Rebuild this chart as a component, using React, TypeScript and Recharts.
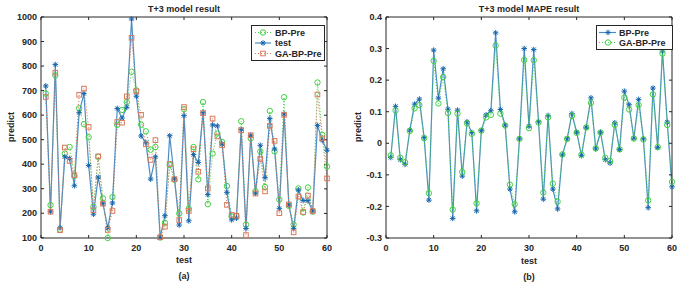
import React from 'react';
import { LineChart, Line, XAxis, YAxis } from 'recharts';

// sample index on the x axis
const idx = Array.from({ length: 60 }, (_, i) => i + 1);

// (a) T+3 model result
const testA = [
  719, 206, 806, 141, 430, 423, 312, 610, 688, 395,
  196, 347, 239, 140, 242, 627, 588, 632, 992, 677,
  515, 488, 339, 430, 102, 190, 516, 340, 152, 598,
  169, 439, 407, 610, 276, 560, 556, 482, 285, 173,
  180, 542, 138, 518, 282, 477, 345, 586, 462, 220,
  605, 233, 138, 295, 252, 251, 209, 558, 497, 457,
];
const bpA = [
  688, 233, 762, 133, 443, 470, 352, 628, 563, 510,
  226, 430, 261, 99, 266, 560, 621, 653, 777, 701,
  561, 534, 459, 470, 101, 161, 397, 336, 199, 624,
  219, 470, 338, 653, 237, 443, 525, 490, 311, 187,
  188, 575, 154, 505, 290, 452, 307, 617, 452, 255,
  673, 230, 154, 301, 203, 305, 206, 733, 520, 390,
];
const gaA = [
  674, 206, 773, 131, 468, 413, 355, 683, 708, 552,
  212, 432, 239, 132, 209, 572, 569, 676, 915, 697,
  601, 481, 417, 498, 102, 145, 401, 339, 172, 633,
  209, 461, 369, 608, 301, 586, 513, 477, 234, 193,
  190, 538, 111, 518, 280, 421, 289, 556, 495, 200,
  601, 236, 122, 268, 205, 272, 209, 684, 505, 342,
];

// (b) T+3 model MAPE result
const bpB = [
  -0.045, 0.117, -0.052, -0.067, 0.042, 0.124, 0.14, 0.018, -0.18, 0.295,
  0.143, 0.236, 0.108, -0.238, 0.105, -0.104, 0.068, 0.034, -0.214, 0.04,
  0.09, 0.103, 0.35, 0.107, 0.058, -0.145, -0.217, 0.014, 0.3, 0.054,
  0.297, 0.068, -0.177, 0.088, -0.145, -0.208, -0.037, 0.014, 0.094, 0.035,
  -0.039, 0.051, 0.144, -0.018, 0.035, -0.052, -0.063, 0.065, -0.02, 0.165,
  0.122, 0.016, 0.139, 0.014, -0.204, 0.175, -0.013, 0.292, 0.067, -0.138,
];
const gaB = [
  -0.038, 0.104, -0.046, -0.06, 0.039, 0.111, 0.121, 0.016, -0.158, 0.261,
  0.126, 0.21, 0.096, -0.21, 0.094, -0.091, 0.063, 0.03, -0.19, 0.04,
  0.082, 0.09, 0.31, 0.094, 0.056, -0.131, -0.193, 0.014, 0.264, 0.048,
  0.263, 0.066, -0.156, 0.082, -0.128, -0.185, -0.035, 0.014, 0.087, 0.033,
  -0.036, 0.05, 0.128, -0.016, 0.034, -0.046, -0.056, 0.058, -0.019, 0.145,
  0.107, 0.015, 0.121, 0.012, -0.181, 0.155, -0.012, 0.284, 0.058, -0.122,
];

const xTicks = [0, 10, 20, 30, 40, 50, 60];
const yTicksA = [100, 200, 300, 400, 500, 600, 700, 800, 900, 1000];
const yTicksB = [-0.3, -0.2, -0.1, 0, 0.1, 0.2, 0.3, 0.4];

const rowsA = idx.map((x, i) => ({ x, test: testA[i], bp: bpA[i], ga: gaA[i] }));
const rowsB = idx.map((x, i) => ({ x, bp: bpB[i], ga: gaB[i] }));

const AX = '#262626';
const BLUE_LINE = '#4a8dc6';
const BLUE_MARK = '#1866ad';
const GREEN = '#3fd23f';
const ORANGE = '#d9795a';
const FONT = "'Liberation Sans', Arial, sans-serif";
const tickStyle = { fontSize: 9, fontWeight: 700, fill: AX, fontFamily: FONT };

function StarMark({ x, y, color }: { x: number; y: number; color: string }) {
  const r = 2.8;
  const d = 2;
  return (
    <g stroke={color} strokeWidth={1}>
      <line x1={x - r} y1={y} x2={x + r} y2={y} />
      <line x1={x} y1={y - r} x2={x} y2={y + r} />
      <line x1={x - d} y1={y - d} x2={x + d} y2={y + d} />
      <line x1={x - d} y1={y + d} x2={x + d} y2={y - d} />
    </g>
  );
}

function CircleMark({ x, y }: { x: number; y: number }) {
  return <circle cx={x} cy={y} r={2.7} fill="none" stroke={GREEN} strokeWidth={1} />;
}

function SquareMark({ x, y }: { x: number; y: number }) {
  return <rect x={x - 2.3} y={y - 2.3} width={4.6} height={4.6} fill="none" stroke={ORANGE} strokeWidth={1} />;
}

const starDot = (p: any) =>
  p.cx == null ? <g key={p.index} /> : <g key={p.index}><StarMark x={p.cx} y={p.cy} color={BLUE_MARK} /></g>;
const circleDot = (p: any) =>
  p.cx == null ? <g key={p.index} /> : <g key={p.index}><CircleMark x={p.cx} y={p.cy} /></g>;
const squareDot = (p: any) =>
  p.cx == null ? <g key={p.index} /> : <g key={p.index}><SquareMark x={p.cx} y={p.cy} /></g>;

const fmtB = (v: number) => (Math.abs(v) < 1e-9 ? '0' : v.toFixed(1));

// box axes: labelled bottom/left, bare top/right, ticks pointing inward
function frameAxes(domain: number[], yTicks: number[], yFmt?: (v: number) => string) {
  return [
    <XAxis key="xb" xAxisId="b" type="number" dataKey="x" domain={[0, 60]} ticks={xTicks} height={20}
      axisLine={{ stroke: AX }} tickLine={{ stroke: AX }} tickSize={-3} tickMargin={10} tick={tickStyle} />,
    <XAxis key="xt" xAxisId="t" type="number" dataKey="x" domain={[0, 60]} ticks={xTicks} height={1}
      orientation="top" axisLine={{ stroke: AX }} tickLine={{ stroke: AX }} tickSize={-3} tickFormatter={() => ''} />,
    <YAxis key="yl" yAxisId="l" type="number" domain={domain} ticks={yTicks} width={41} interval={0}
      axisLine={{ stroke: AX }} tickLine={{ stroke: AX }} tickSize={-3} tickMargin={7} tick={tickStyle}
      tickFormatter={yFmt} />,
    <YAxis key="yr" yAxisId="r" type="number" domain={domain} ticks={yTicks} width={1} orientation="right"
      axisLine={{ stroke: AX }} tickLine={{ stroke: AX }} tickSize={-3} tickFormatter={() => ''} />,
  ];
}

const labelBase: React.CSSProperties = {
  position: 'absolute',
  fontFamily: FONT,
  fontWeight: 700,
  color: AX,
  lineHeight: 1,
  whiteSpace: 'nowrap',
  transform: 'translate(-50%, -50%)',
};

function Text({ x, y, size, rotate, children }: { x: number; y: number; size: number; rotate?: boolean; children: React.ReactNode }) {
  return (
    <div style={{ ...labelBase, left: x, top: y, fontSize: size, transform: rotate ? 'translate(-50%, -50%) rotate(-90deg)' : labelBase.transform }}>
      {children}
    </div>
  );
}

export default function App() {
  return (
    <div style={{ position: 'absolute', left: 0, top: 0, width: 684, height: 283, background: '#fff', overflow: 'hidden' }}>
      <div style={{ position: 'absolute', left: 0, top: 0 }}>
        <LineChart width={340} height={283} data={rowsA} margin={{ top: 16, right: 12, bottom: 25, left: 0 }}>
          {frameAxes([100, 1000], yTicksA)}
          <Line xAxisId="t" yAxisId="r" dataKey="test" stroke="none" dot={false} activeDot={false} isAnimationActive={false} />
          <Line xAxisId="b" yAxisId="l" dataKey="bp" stroke={GREEN} strokeWidth={1} strokeDasharray="1 2"
            dot={circleDot} activeDot={false} isAnimationActive={false} />
          <Line xAxisId="b" yAxisId="l" dataKey="test" stroke={BLUE_LINE} strokeWidth={1.2}
            dot={starDot} activeDot={false} isAnimationActive={false} />
          <Line xAxisId="b" yAxisId="l" dataKey="ga" stroke={ORANGE} strokeWidth={1} strokeDasharray="1 2"
            dot={squareDot} activeDot={false} isAnimationActive={false} />
        </LineChart>
      </div>
      <div style={{ position: 'absolute', left: 345, top: 0 }}>
        <LineChart width={339} height={283} data={rowsB} margin={{ top: 16, right: 11, bottom: 25, left: 0 }}>
          {frameAxes([-0.3, 0.4], yTicksB, fmtB)}
          <Line xAxisId="t" yAxisId="r" dataKey="bp" stroke="none" dot={false} activeDot={false} isAnimationActive={false} />
          <Line xAxisId="b" yAxisId="l" dataKey="bp" stroke={BLUE_LINE} strokeWidth={1.2}
            dot={starDot} activeDot={false} isAnimationActive={false} />
          <Line xAxisId="b" yAxisId="l" dataKey="ga" stroke={GREEN} strokeWidth={1} strokeDasharray="1 2"
            dot={circleDot} activeDot={false} isAnimationActive={false} />
        </LineChart>
      </div>

      <Text x={184} y={9} size={9}>T+3 model result</Text>
      <Text x={11} y={127} size={9} rotate>predict</Text>
      <Text x={184} y={260} size={9}>test</Text>
      <Text x={184} y={276} size={9}>(a)</Text>

      <Text x={529} y={9} size={9}>T+3 model MAPE result</Text>
      <Text x={358} y={127} size={9} rotate>predict</Text>
      <Text x={529} y={261} size={9}>test</Text>
      <Text x={529} y={277} size={9}>(b)</Text>

      <svg style={{ position: 'absolute', left: 251, top: 25 }} width={74} height={36}>
        <rect x={0.5} y={0.5} width={73} height={35} fill="#fff" stroke={AX} strokeWidth={1} />
        <line x1={4} y1={7.5} x2={20} y2={7.5} stroke={GREEN} strokeDasharray="1 2" />
        <CircleMark x={12} y={7.5} />
        <text x={24} y={10.5} fontSize={9} fontWeight={700} fill={AX} fontFamily={FONT}>BP-Pre</text>
        <line x1={4} y1={18} x2={20} y2={18} stroke={BLUE_LINE} strokeWidth={1.2} />
        <StarMark x={12} y={18} color={BLUE_MARK} />
        <text x={24} y={21} fontSize={9} fontWeight={700} fill={AX} fontFamily={FONT}>test</text>
        <line x1={4} y1={28.5} x2={20} y2={28.5} stroke={ORANGE} strokeDasharray="1 2" />
        <SquareMark x={12} y={28.5} />
        <text x={24} y={31.5} fontSize={9} fontWeight={700} fill={AX} fontFamily={FONT}>GA-BP-Pre</text>
      </svg>

      <svg style={{ position: 'absolute', left: 596, top: 25 }} width={77} height={25}>
        <rect x={0.5} y={0.5} width={76} height={24} fill="#fff" stroke={AX} strokeWidth={1} />
        <line x1={3} y1={7.5} x2={20} y2={7.5} stroke={BLUE_LINE} strokeWidth={1.2} />
        <StarMark x={12} y={7.5} color={BLUE_MARK} />
        <text x={23} y={10.5} fontSize={9} fontWeight={700} fill={AX} fontFamily={FONT}>BP-Pre</text>
        <line x1={3} y1={17.5} x2={20} y2={17.5} stroke={GREEN} strokeDasharray="1 2" />
        <CircleMark x={12} y={17.5} />
        <text x={23} y={20.5} fontSize={9} fontWeight={700} fill={AX} fontFamily={FONT}>GA-BP-Pre</text>
      </svg>
    </div>
  );
}
